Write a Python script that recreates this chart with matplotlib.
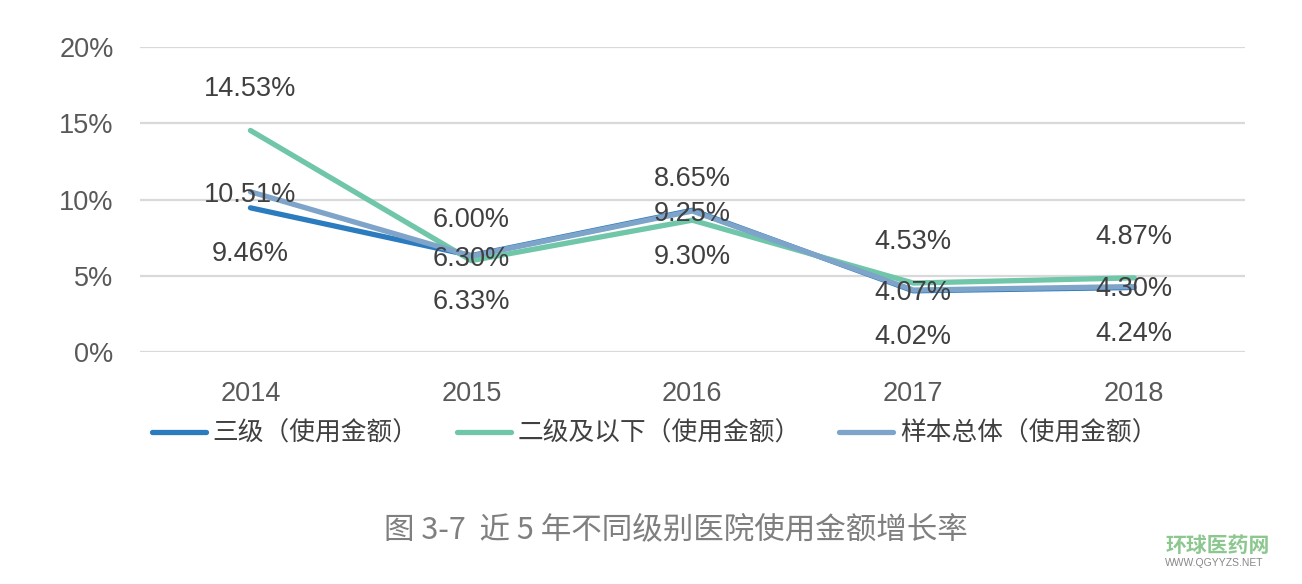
import matplotlib
matplotlib.use("Agg")
import matplotlib.pyplot as plt
from matplotlib.ticker import FuncFormatter

plt.rcParams['font.family'] = ['Liberation Sans', 'Noto Sans CJK SC', 'DejaVu Sans']

years = ["2014", "2015", "2016", "2017", "2018"]
tier3 = [9.46, 6.33, 9.30, 4.02, 4.24]
tier2 = [14.53, 6.00, 8.65, 4.53, 4.87]
total = [10.51, 6.30, 9.25, 4.07, 4.30]
series_names = ["三级（使用金额）", "二级及以下（使用金额）", "样本总体（使用金额）"]
colors = ["#2b7bbf", "#6fc6a9", "#7ea4c9"]
label_offsets = [-33.5, 29.5, -2]  # points: below, above, centered
title = "图 3-7  近 5 年不同级别医院使用金额增长率"

fig = plt.figure(figsize=(13.02, 5.84), dpi=100)
ax = fig.add_axes([0.1075, 0.397, 0.8485, 0.5225])
x = list(range(len(years)))
lines = []
for vals, name, c in zip([tier3, tier2, total], series_names, colors):
    ln, = ax.plot(x, vals, color=c, lw=3.8, solid_capstyle='round', label=name, zorder=3)
    lines.append(ln)
for vals, off in zip([tier3, tier2, total], label_offsets):
    for xi, v in zip(x, vals):
        ax.annotate(f"{v:.2f}%", (xi, v), xytext=(0, off), textcoords='offset points',
                    ha='center', va='center', fontsize=19.5, color='#404040', zorder=5)

ax.set_xlim(-0.5, 4.5)
ax.set_ylim(0, 20)
ax.set_yticks([0, 5, 10, 15, 20])
ax.yaxis.set_major_formatter(FuncFormatter(lambda v, p: f"{v:.0f}%"))
ax.set_xticks(x)
ax.set_xticklabels(years)
ax.grid(axis='y', color='#d9d9d9', lw=1.6, zorder=0)
ax.set_axisbelow(True)
for s in ax.spines.values():
    s.set_visible(False)
ax.tick_params(length=0, labelsize=19.5, labelcolor='#595959')
ax.tick_params(axis='x', pad=21)
ax.tick_params(axis='y', pad=19)

fig.legend(handles=lines, loc='center left', bbox_to_anchor=(0.117, 1 - 434 / 584), ncol=3,
           frameon=False, handlelength=2.1, handletextpad=0.25,
           columnspacing=1.5, borderaxespad=0, borderpad=0,
           prop={'family': ['Noto Sans CJK SC'], 'size': 18.5}, labelcolor='#404040')

fig.text(0.519, 1 - 530 / 584, title, ha='center', va='center', fontsize=22,
         color='#7f7f7f', family=['Noto Sans CJK SC', 'DejaVu Sans'])

fig.text(0.895, 1 - 545 / 584, "环球医药网", ha='left', va='center', fontsize=15,
         color='#8cc78f', family=['Noto Sans CJK SC'], fontweight='bold')
fig.text(0.895, 1 - 563 / 584, "WWW.QGYYZS.NET", ha='left', va='center', fontsize=7.5,
         color='#888888')

fig.savefig("out.png", dpi=100)
